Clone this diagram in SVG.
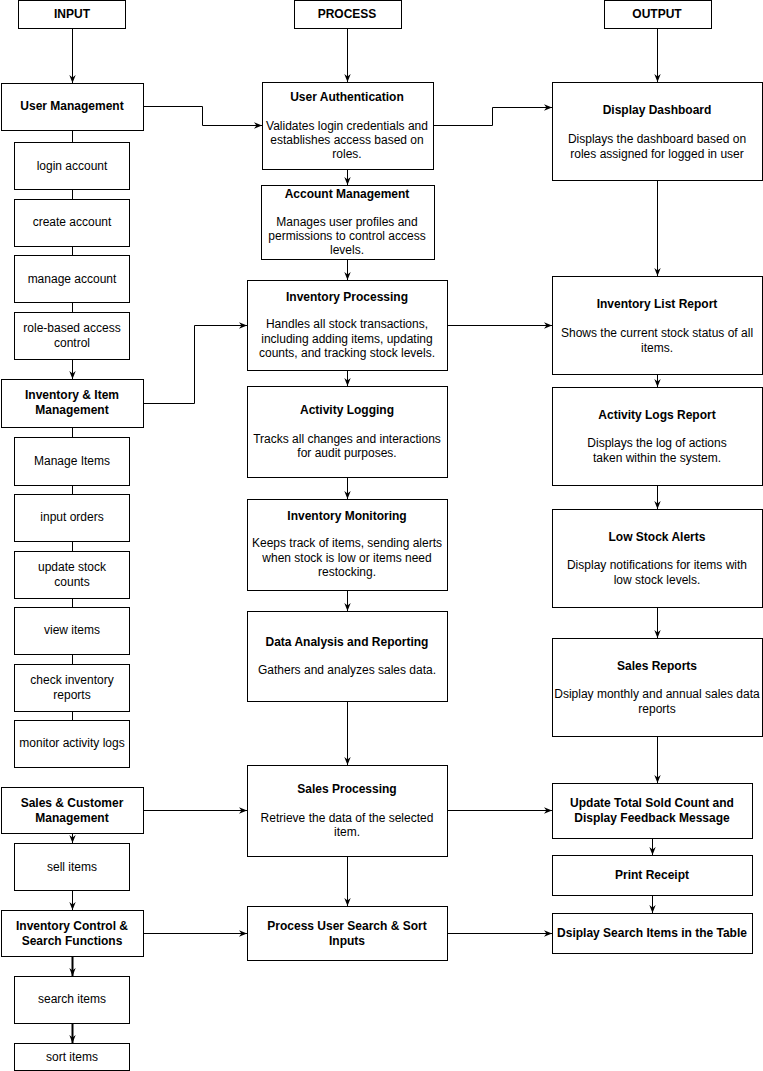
<svg xmlns="http://www.w3.org/2000/svg" width="763" height="1071" viewBox="0 0 763 1071">
  <style>
    .box { fill: #fff; stroke: #000; stroke-width: 1; }
    .t { font-family: "Liberation Sans", Arial, sans-serif; font-size: 12px; fill: #000; text-anchor: middle; }
    .b { font-weight: bold; }
    .edge { fill: none; stroke: #000; stroke-width: 1; }
    .arr { marker-end: url(#arrow); }
    .thick { stroke-width: 2; }
  </style>
  <defs>
    <marker id="arrow" viewBox="0 0 10 10" refX="10" refY="5" markerWidth="8" markerHeight="8" markerUnits="userSpaceOnUse" orient="auto">
      <path d="M0,1 L10,5 L0,9 L3,5 z" fill="#000"/>
    </marker>
  </defs>
  <rect width="763" height="1071" fill="#fff"/>

  <!-- connectors -->
  <g id="connectors">
    <!-- input column -->
    <path class="edge arr" d="M72.5,28 V83"/>
    <path class="edge" d="M72.5,130 V142"/>
    <path class="edge" d="M72.5,189 V199"/>
    <path class="edge" d="M72.5,246 V255"/>
    <path class="edge" d="M72.5,302 V312"/>
    <path class="edge arr" d="M72.5,359 V379"/>
    <path class="edge" d="M72.5,427 V437"/>
    <path class="edge" d="M72.5,485 V494"/>
    <path class="edge" d="M72.5,541 V551"/>
    <path class="edge" d="M72.5,598 V607"/>
    <path class="edge" d="M72.5,654 V664"/>
    <path class="edge" d="M72.5,711 V720"/>
    <path class="edge arr" d="M72.5,833 V843"/>
    <path class="edge arr" d="M72.5,890 V910"/>
    <path class="edge arr thick" d="M72.5,956 V976"/>
    <path class="edge arr thick" d="M72.5,1023 V1043"/>
    <!-- process column -->
    <path class="edge arr" d="M347.5,28 V82"/>
    <path class="edge arr" d="M347.5,169 V185"/>
    <path class="edge arr" d="M347.5,259 V280"/>
    <path class="edge arr" d="M347.5,370 V386"/>
    <path class="edge arr" d="M347.5,477 V499"/>
    <path class="edge arr" d="M347.5,590 V611"/>
    <path class="edge arr" d="M347.5,701 V765"/>
    <path class="edge arr" d="M347.5,856 V906"/>
    <!-- output column -->
    <path class="edge arr" d="M657.5,28 V82"/>
    <path class="edge arr" d="M657.5,180 V276"/>
    <path class="edge arr" d="M657.5,374 V387"/>
    <path class="edge arr" d="M657.5,485 V509"/>
    <path class="edge arr" d="M657.5,607 V638"/>
    <path class="edge arr" d="M657.5,736 V783"/>
    <path class="edge arr" d="M652.5,838 V855"/>
    <path class="edge arr" d="M652.5,895 V913"/>
    <!-- cross links -->
    <path class="edge arr" d="M143,106.5 H202.5 V125.5 H262"/>
    <path class="edge arr" d="M433,125.5 H492.5 V107.5 H552"/>
    <path class="edge arr" d="M143,403.5 H194.5 V325.5 H247"/>
    <path class="edge arr" d="M447,325.5 H552"/>
    <path class="edge arr" d="M143,810.5 H247"/>
    <path class="edge arr" d="M447,810.5 H552"/>
    <path class="edge arr" d="M143,933.5 H247"/>
    <path class="edge arr" d="M447,933.5 H552"/>
  </g>

  <!-- INPUT column -->
  <g id="input-header"><rect class="box" x="18.5" y="0.5" width="107" height="28"/><text class="t b" x="72" y="18">INPUT</text></g>
  <g id="user-management"><rect class="box" x="1.5" y="83.5" width="142" height="47"/><text class="t b" x="72" y="110">User Management</text></g>
  <g id="login-account"><rect class="box" x="14.5" y="142.5" width="115" height="47"/><text class="t" x="72" y="170">login account</text></g>
  <g id="create-account"><rect class="box" x="14.5" y="199.5" width="115" height="47"/><text class="t" x="72" y="226">create account</text></g>
  <g id="manage-account"><rect class="box" x="14.5" y="255.5" width="115" height="47"/><text class="t" x="72" y="283">manage account</text></g>
  <g id="role-based"><rect class="box" x="14.5" y="312.5" width="115" height="47"/><text class="t" x="72" y="332">role-based access</text><text class="t" x="72" y="347">control</text></g>
  <g id="inventory-item-management"><rect class="box" x="1.5" y="379.5" width="142" height="48"/><text class="t b" x="72" y="399">Inventory &amp; Item</text><text class="t b" x="72" y="414">Management</text></g>
  <g id="manage-items"><rect class="box" x="14.5" y="437.5" width="115" height="48"/><text class="t" x="72" y="465">Manage Items</text></g>
  <g id="input-orders"><rect class="box" x="14.5" y="494.5" width="115" height="47"/><text class="t" x="72" y="521">input orders</text></g>
  <g id="update-stock-counts"><rect class="box" x="14.5" y="551.5" width="115" height="47"/><text class="t" x="72" y="571">update stock</text><text class="t" x="72" y="586">counts</text></g>
  <g id="view-items"><rect class="box" x="14.5" y="607.5" width="115" height="47"/><text class="t" x="72" y="634">view items</text></g>
  <g id="check-inventory-reports"><rect class="box" x="14.5" y="664.5" width="115" height="47"/><text class="t" x="72" y="684">check inventory</text><text class="t" x="72" y="699">reports</text></g>
  <g id="monitor-activity-logs"><rect class="box" x="14.5" y="720.5" width="115" height="47"/><text class="t" x="72" y="747">monitor activity logs</text></g>
  <g id="sales-customer-management"><rect class="box" x="1.5" y="787.5" width="142" height="46"/><text class="t b" x="72" y="807">Sales &amp; Customer</text><text class="t b" x="72" y="822">Management</text></g>
  <g id="sell-items"><rect class="box" x="14.5" y="843.5" width="115" height="47"/><text class="t" x="72" y="871">sell items</text></g>
  <g id="inventory-control-search"><rect class="box" x="1.5" y="910.5" width="142" height="46"/><text class="t b" x="72" y="930">Inventory Control &amp;</text><text class="t b" x="72" y="945">Search Functions</text></g>
  <g id="search-items"><rect class="box" x="14.5" y="976.5" width="115" height="47"/><text class="t" x="72" y="1003">search items</text></g>
  <g id="sort-items"><rect class="box" x="14.5" y="1043.5" width="115" height="27"/><text class="t" x="72" y="1061">sort items</text></g>

  <!-- PROCESS column -->
  <g id="process-header"><rect class="box" x="294.5" y="0.5" width="107" height="28"/><text class="t b" x="347" y="18">PROCESS</text></g>
  <g id="user-authentication"><rect class="box" x="262.5" y="82.5" width="171" height="87"/>
    <text class="t b" x="347" y="101">User Authentication</text>
    <text class="t" x="347" y="130">Validates login credentials and</text>
    <text class="t" x="347" y="144">establishes access based on</text>
    <text class="t" x="347" y="158">roles.</text></g>
  <g id="account-management"><rect class="box" x="261.5" y="185.5" width="173" height="74"/>
    <text class="t b" x="347" y="198">Account Management</text>
    <text class="t" x="347" y="226">Manages user profiles and</text>
    <text class="t" x="347" y="240">permissions to control access</text>
    <text class="t" x="347" y="254">levels.</text></g>
  <g id="inventory-processing"><rect class="box" x="247.5" y="280.5" width="200" height="90"/>
    <text class="t b" x="347" y="301">Inventory Processing</text>
    <text class="t" x="347" y="328">Handles all stock transactions,</text>
    <text class="t" x="347" y="343">including adding items, updating</text>
    <text class="t" x="347" y="357">counts, and tracking stock levels.</text></g>
  <g id="activity-logging"><rect class="box" x="247.5" y="386.5" width="200" height="91"/>
    <text class="t b" x="347" y="414">Activity Logging</text>
    <text class="t" x="347" y="443">Tracks all changes and interactions</text>
    <text class="t" x="347" y="457">for audit purposes.</text></g>
  <g id="inventory-monitoring"><rect class="box" x="247.5" y="499.5" width="200" height="91"/>
    <text class="t b" x="347" y="520">Inventory Monitoring</text>
    <text class="t" x="347" y="547">Keeps track of items, sending alerts</text>
    <text class="t" x="347" y="562">when stock is low or items need</text>
    <text class="t" x="347" y="576">restocking.</text></g>
  <g id="data-analysis-reporting"><rect class="box" x="247.5" y="611.5" width="200" height="90"/>
    <text class="t b" x="347" y="646">Data Analysis and Reporting</text>
    <text class="t" x="347" y="674">Gathers and analyzes sales data.</text></g>
  <g id="sales-processing"><rect class="box" x="247.5" y="765.5" width="200" height="91"/>
    <text class="t b" x="347" y="793">Sales Processing</text>
    <text class="t" x="347" y="822">Retrieve the data of the selected</text>
    <text class="t" x="347" y="836">item.</text></g>
  <g id="process-search-sort"><rect class="box" x="247.5" y="906.5" width="200" height="54"/>
    <text class="t b" x="347" y="930">Process User Search &amp; Sort</text>
    <text class="t b" x="347" y="945">Inputs</text></g>

  <!-- OUTPUT column -->
  <g id="output-header"><rect class="box" x="604.5" y="0.5" width="107" height="28"/><text class="t b" x="657" y="18">OUTPUT</text></g>
  <g id="display-dashboard"><rect class="box" x="552.5" y="82.5" width="210" height="98"/>
    <text class="t b" x="657" y="114">Display Dashboard</text>
    <text class="t" x="657" y="143">Displays the dashboard based on</text>
    <text class="t" x="657" y="158">roles assigned for logged in user</text></g>
  <g id="inventory-list-report"><rect class="box" x="552.5" y="276.5" width="210" height="98"/>
    <text class="t b" x="657" y="308">Inventory List Report</text>
    <text class="t" x="657" y="337">Shows the current stock status of all</text>
    <text class="t" x="657" y="352">items.</text></g>
  <g id="activity-logs-report"><rect class="box" x="552.5" y="387.5" width="210" height="98"/>
    <text class="t b" x="657" y="419">Activity Logs Report</text>
    <text class="t" x="657" y="447">Displays the log of actions</text>
    <text class="t" x="657" y="462">taken within the system.</text></g>
  <g id="low-stock-alerts"><rect class="box" x="552.5" y="509.5" width="210" height="98"/>
    <text class="t b" x="657" y="541">Low Stock Alerts</text>
    <text class="t" x="657" y="569">Display notifications for items with</text>
    <text class="t" x="657" y="584">low stock levels.</text></g>
  <g id="sales-reports"><rect class="box" x="552.5" y="638.5" width="210" height="98"/>
    <text class="t b" x="657" y="670">Sales Reports</text>
    <text class="t" x="657" y="698">Dsiplay monthly and annual sales data</text>
    <text class="t" x="657" y="713">reports</text></g>
  <g id="update-sold-count"><rect class="box" x="552.5" y="783.5" width="200" height="55"/>
    <text class="t b" x="652" y="807">Update Total Sold Count and</text>
    <text class="t b" x="652" y="822">Display Feedback Message</text></g>
  <g id="print-receipt"><rect class="box" x="552.5" y="855.5" width="200" height="40"/>
    <text class="t b" x="652" y="879">Print Receipt</text></g>
  <g id="display-search-items"><rect class="box" x="552.5" y="913.5" width="200" height="40"/>
    <text class="t b" x="652" y="937">Dsiplay Search Items in the Table</text></g>
</svg>
